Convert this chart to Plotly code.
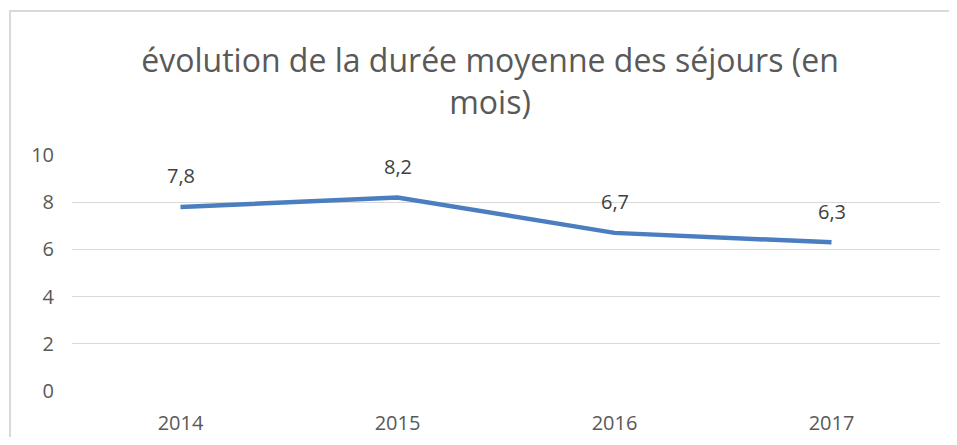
import plotly.graph_objects as go

years = ["2014", "2015", "2016", "2017"]
durees = [7.8, 8.2, 6.7, 6.3]
y_ticks = [0, 2, 4, 6, 8, 10]

labels = [f"{v:.1f}".replace(".", ",") for v in durees]
FONT = "Open Sans"

fig = go.Figure()
fig.add_trace(go.Scatter(
    x=years, y=durees, mode="lines",
    line=dict(color="#4A7EC0", width=4.5),
    hoverinfo="skip", showlegend=False,
))

for i, (y, t) in enumerate(zip(durees, labels)):
    fig.add_annotation(x=i, y=y, text=t, showarrow=False, yshift=31,
                       xanchor="center", yanchor="middle",
                       font=dict(family=FONT, size=20, color="#404040"))

fig.add_shape(type="rect", xref="paper", yref="paper",
              x0=-0.0714, x1=1.05, y0=-0.4, y1=1.61,
              line=dict(color="#D9D9D9", width=2), fillcolor="rgba(0,0,0,0)", layer="below")

fig.update_layout(
    width=941, height=429,
    margin=dict(l=64, r=9, t=147, b=46),
    paper_bgcolor="white", plot_bgcolor="white",
    separators=", ",
    title=dict(text="évolution de la durée moyenne des séjours (en<br>mois)",
               x=482 / 941, xanchor="center", xref="container",
               y=1 - 64 / 429, yanchor="top", yref="container",
               font=dict(family=FONT, size=32, color="#595959")),
    xaxis=dict(type="category", range=[-0.5, 3.5], showgrid=False, showline=False,
               zeroline=False, ticks="", tickfont=dict(family=FONT, size=20, color="#595959"),
               ticklabelstandoff=18, automargin=False),
    yaxis=dict(range=[0, 10], tickvals=y_ticks, showgrid=True, gridcolor="#D9D9D9", gridwidth=1,
               zeroline=False, showline=False, ticks="", automargin=False,
               tickfont=dict(family=FONT, size=20, color="#595959"), ticklabelstandoff=17),
)

fig.write_html("out.html")
